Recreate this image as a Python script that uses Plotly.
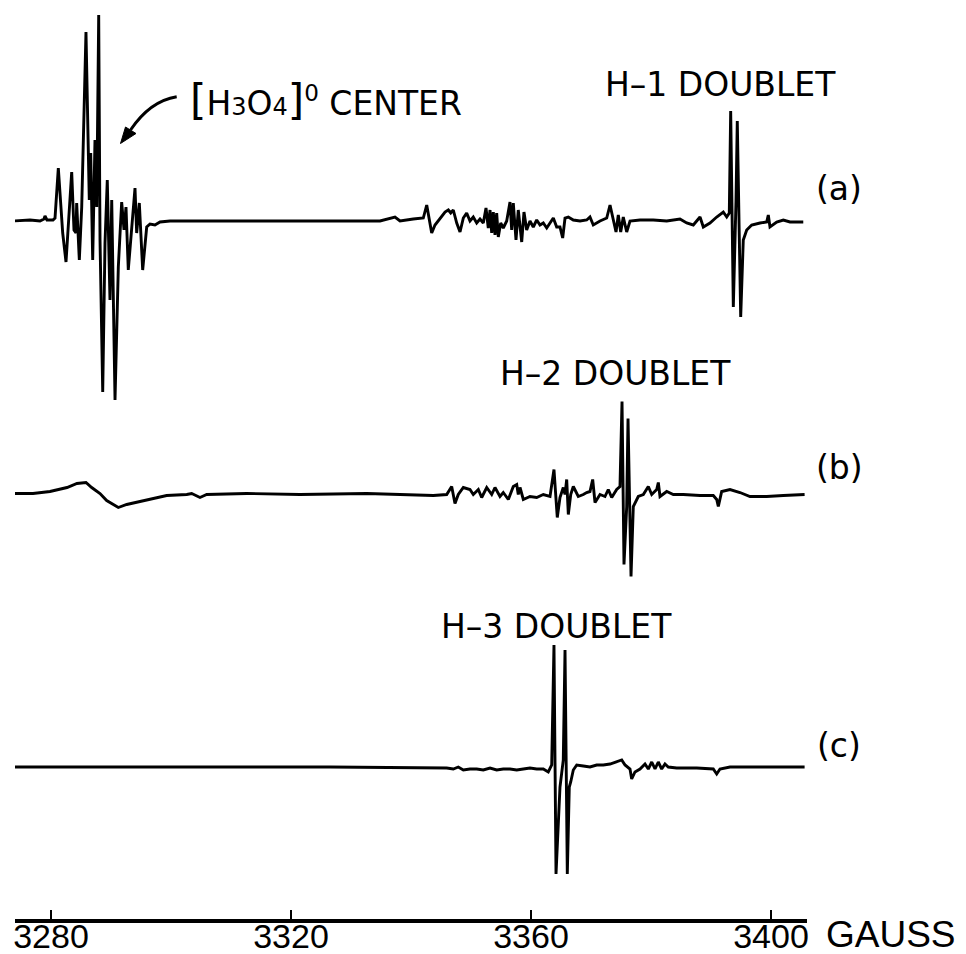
import plotly.graph_objects as go

# ---------------- data ----------------
# Magnetic field (gauss) and relative signal (arbitrary units, baseline = 0)
field_a = [3273.67, 3276.5, 3278.17, 3278.83, 3279.0, 3279.33, 3280.33, 3280.67, 3281.22, 3281.95,
           3282.5, 3283.45, 3283.83, 3284.17, 3284.28, 3284.55, 3284.72, 3285.12, 3285.83, 3286.38,
           3286.62, 3286.95, 3287.33, 3287.62, 3287.95, 3288.17, 3288.62, 3289.0, 3289.38, 3289.83,
           3290.12, 3290.67, 3291.22, 3291.78, 3292.17, 3292.5, 3292.88, 3294.0, 3294.28, 3294.72,
           3295.28, 3295.95, 3296.5, 3297.33, 3298.17, 3299.83, 3313.17, 3326.5, 3334.83, 3337.33,
           3338.17, 3340.38, 3342.05, 3342.62, 3343.45, 3344.0, 3344.83, 3345.67, 3346.22, 3346.62,
           3347.05, 3347.62, 3348.17, 3348.72, 3349.28, 3349.83, 3350.38, 3350.95, 3351.5, 3352.05,
           3352.5, 3352.88, 3353.17, 3353.45, 3353.72, 3354.0, 3354.28, 3354.55, 3354.95, 3355.38,
           3355.95, 3356.5, 3356.78, 3357.05, 3357.5, 3357.88, 3358.45, 3358.83, 3359.28, 3359.83,
           3360.38, 3360.95, 3361.5, 3362.05, 3362.62, 3363.17, 3363.72, 3364.28, 3364.83, 3365.28,
           3365.67, 3366.22, 3367.05, 3368.17, 3369.28, 3369.83, 3370.38, 3371.5, 3372.62, 3373.17,
           3373.72, 3374.17, 3374.55, 3374.95, 3375.38, 3375.95, 3376.5, 3378.17, 3380.38, 3382.62,
           3384.83, 3385.95, 3387.05, 3388.17, 3388.72, 3389.83, 3390.95, 3392.05, 3392.62, 3393.05,
           3393.28, 3393.72, 3394.17, 3394.38, 3394.95, 3395.38, 3395.95, 3396.78, 3398.17, 3399.28,
           3399.55, 3399.83, 3400.95, 3402.05, 3403.17, 3405.38]
signal_a = [0, 1, 0, 2, 5, 1, 1, 3, 53, -12,
            -41, 49, -9, -12, 18, -12, -39, 14, 189, 21,
            68, -39, 81, 14, 206, -19, -171, -22, 41, -79,
            21, -179, -46, 19, -9, 14, -49, 33, -12, 18,
            -49, -6, -3, -4, -1, 0, 0, 0, 0, 4,
            0, 2, 3, 16, -12, -4, 3, 9, 11, 8,
            11, -2, -11, 3, 8, 0, 4, -2, 2, -2,
            13, -7, 11, -12, 9, -14, 8, -16, -2, -7,
            0, 19, -9, 18, -19, 11, -21, 9, -9, 0,
            -6, 1, -4, -2, -7, -2, 3, -6, -6, -17,
            3, 4, 1, 0, 1, 4, -4, 0, 3, 16,
            1, -11, 6, -11, 4, -11, 0, 1, 1, 0,
            2, -2, -4, 4, -6, -2, 4, 9, 4, 8,
            110, -86, 21, 100, -96, -19, -9, -4, -2, -1,
            6, -6, -1, 1, -1, -1]

field_b = [3273.67, 3277.0, 3279.83, 3282.67, 3284.33, 3285.83, 3286.78, 3288.17, 3289.28, 3291.22,
           3292.62, 3294.83, 3297.0, 3299.28, 3302.62, 3303.45, 3304.83, 3305.95, 3312.62, 3321.5,
           3332.62, 3338.17, 3341.5, 3343.72, 3345.95, 3346.78, 3347.33, 3347.88, 3348.72, 3349.83,
           3350.38, 3351.22, 3351.78, 3352.62, 3353.45, 3354.0, 3354.83, 3355.38, 3356.22, 3357.05,
           3357.62, 3357.88, 3358.17, 3358.72, 3359.83, 3360.95, 3362.05, 3363.17, 3363.83, 3364.38,
           3364.83, 3365.38, 3365.67, 3365.95, 3366.22, 3366.62, 3367.05, 3367.88, 3368.72, 3369.28,
           3369.83, 3370.28, 3370.67, 3371.5, 3372.33, 3372.88, 3373.45, 3374.28, 3374.83, 3375.17,
           3375.5, 3375.95, 3376.17, 3376.67, 3377.05, 3377.33, 3377.88, 3378.72, 3379.55, 3380.12,
           3380.95, 3381.22, 3381.5, 3382.62, 3383.72, 3385.38, 3388.17, 3390.38, 3390.95, 3391.22,
           3391.78, 3393.17, 3394.83, 3396.5, 3399.28, 3402.05, 3405.6]
signal_b = [1, 1, 3, 7, 11, 12, 7, 1, -6, -13,
            -10, -7, -4, -1, 0, 1, -3, 0, 1, 0,
            1, 0, 0, -1, 0, 8, -9, 0, 7, 5,
            0, 5, -3, 7, 0, 7, -2, 2, -5, 8,
            10, 0, 7, -5, -2, -3, 0, -2, 25, -23,
            -3, 7, 0, 15, -20, 0, 8, -2, 0, 2,
            3, 15, -8, 0, -2, 5, -3, 5, 8, 93,
            -70, -12, 76, -82, -12, -8, -2, 0, 8, 0,
            5, 12, -2, 3, 0, 0, -1, -1, -5, -12,
            3, 5, 2, -2, -2, -1, 0]

field_c = [3273.67, 3310.0, 3326.5, 3345.95, 3347.05, 3347.88, 3348.72, 3349.83, 3350.95, 3352.05,
           3353.17, 3354.28, 3355.38, 3356.5, 3357.62, 3358.72, 3359.83, 3360.95, 3362.05, 3362.88,
           3363.45, 3363.83, 3364.17, 3364.83, 3365.38, 3365.67, 3366.05, 3366.38, 3366.62, 3367.05,
           3367.62, 3368.72, 3369.83, 3370.95, 3372.05, 3373.17, 3374.28, 3375.12, 3375.67, 3376.5,
           3376.78, 3377.33, 3378.17, 3379.0, 3379.55, 3380.12, 3380.67, 3381.22, 3381.78, 3382.33,
           3382.88, 3384.28, 3387.62, 3390.38, 3390.95, 3391.5, 3393.17, 3399.83, 3405.6]
signal_c = [0, 0, 0, -1, -2, 0, -3, -2, -2, -3,
            -1, -3, -2, -2, -3, -2, -1, -2, -2, -5,
            2, 122, -107, -20, 7, 117, -107, -20, -15, -3,
            2, 1, 0, 2, 2, 3, 5, 7, 2, -2,
            -12, -5, -2, 3, -2, 5, -2, 5, -2, 3,
            0, -1, -1, -2, -7, -2, 0, 0, 0]

tick_vals = [3280, 3320, 3360, 3400]
tick_text = ["3280", "3320", "3360", "3400"]
trace_labels = ["(a)", "(b)", "(c)"]
peak_labels = ["H\u20131 DOUBLET", "H\u20132 DOUBLET", "H\u20133 DOUBLET"]

# ---------------- layout constants (page pixels) ----------------
BODY = 8                               # default page margin around the figure
W, H = 966 - BODY, 954 - BODY
L, R, T, B = 15, 807, BODY, 919        # plot area in page pixels
X_RANGE = [3274.0, 3406.0]
Y_RANGE = [-B, -T]
offsets = [-221, -494.5, -767]         # vertical stacking of the three traces

def px(x):
    return (x - L) / (R - L)

def py(y):
    return (B - y) / (B - T)

fig = go.Figure()
for fx, sg, off in [(field_a, signal_a, offsets[0]),
                    (field_b, signal_b, offsets[1]),
                    (field_c, signal_c, offsets[2])]:
    fig.add_trace(go.Scatter(
        x=fx, y=[v + off for v in sg], mode="lines",
        line=dict(color="black", width=2.9), showlegend=False, hoverinfo="skip"))

LABEL_FONT = dict(family="DejaVu Sans", size=33, color="black")

annotations = []
for lab, yy in zip(trace_labels, [188, 467, 745]):
    annotations.append(dict(text=lab, x=px(839), y=py(yy), xref="paper", yref="paper",
                            showarrow=False, xanchor="center", yanchor="middle", font=LABEL_FONT))
for lab, (xx, yy) in zip(peak_labels, [(720, 84), (615, 373), (556, 626)]):
    annotations.append(dict(text=lab, x=px(xx), y=py(yy), xref="paper", yref="paper",
                            showarrow=False, xanchor="center", yanchor="middle", font=LABEL_FONT))
annotations.append(dict(
    text='<span style="font-size:42px">[</span>H<span style="font-size:24px">3</span>O'
         '<span style="font-size:24px">4</span><span style="font-size:42px">]</span>'
         '<sup>0</sup> CENTER',
    x=px(188), y=py(100), xref="paper", yref="paper", showarrow=False,
    xanchor="left", yanchor="middle", font=LABEL_FONT))
annotations.append(dict(text="GAUSS", x=px(891), y=py(934), xref="paper", yref="paper",
                        showarrow=False, xanchor="center", yanchor="middle",
                        font=dict(family="Liberation Sans", size=37, color="black")))

shapes = [
    dict(type="path", xref="paper", yref="paper",
         path=f"M {px(176.7)},{py(96.7)} Q {px(150)},{py(101)} {px(130.5)},{py(130)}",
         line=dict(color="black", width=3)),
    dict(type="path", xref="paper", yref="paper",
         path=f"M {px(120.5)},{py(143.5)} L {px(125.5)},{py(127)} L {px(136)},{py(133.5)} Z",
         line=dict(color="black", width=1), fillcolor="black"),
]

fig.update_layout(
    width=W, height=H,
    margin=dict(l=L - BODY, r=W - (R - BODY), t=T - BODY, b=H - (B - BODY), autoexpand=False),
    paper_bgcolor="white", plot_bgcolor="white",
    annotations=annotations, shapes=shapes,
    xaxis=dict(range=X_RANGE, showgrid=False, zeroline=False,
               showline=True, linecolor="black", linewidth=4,
               ticks="inside", ticklen=9, tickwidth=1.5, tickcolor="black",
               tickvals=tick_vals, ticktext=tick_text, ticklabelstandoff=-16,
               tickfont=dict(family="Liberation Sans", size=34, color="black")),
    yaxis=dict(range=Y_RANGE, visible=False, showgrid=False, zeroline=False),
)

fig.write_html("out.html")
